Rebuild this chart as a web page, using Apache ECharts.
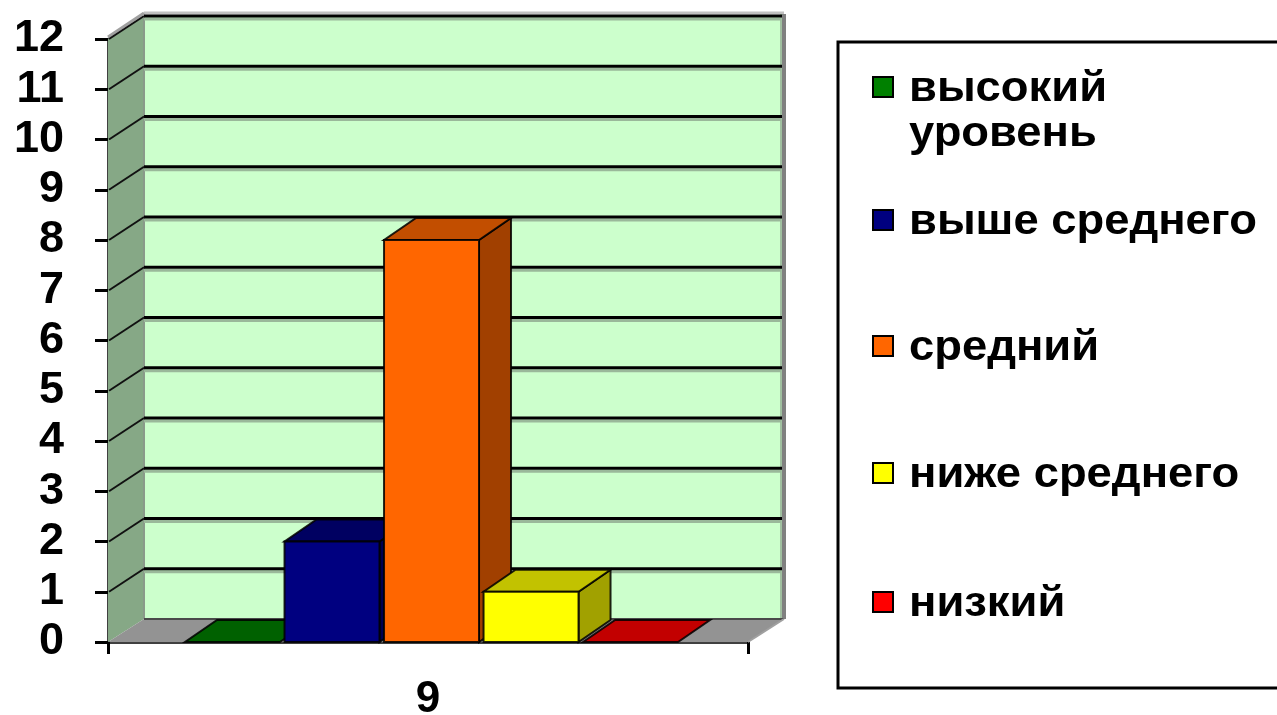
<!DOCTYPE html>
<html><head><meta charset="utf-8">
<script src="https://cdn.jsdelivr.net/npm/echarts@6/dist/echarts.min.js"></script>
<style>html,body{margin:0;padding:0;background:#fff}#c{width:1277px;height:715px}</style>
</head><body><div id="c"></div>
<script>
const categories = ['9'];
const seriesNames = ['высокий уровень', 'выше среднего', 'средний', 'ниже среднего', 'низкий'];
const legendLines = [['высокий', 'уровень'], ['выше среднего'], ['средний'], ['ниже среднего'], ['низкий']];
const values = [0, 2, 8, 1, 0];
const yTicks = [0, 1, 2, 3, 4, 5, 6, 7, 8, 9, 10, 11, 12];
const barColors = ['#008000', '#000080', '#FF6600', '#FFFF00', '#FF0000'];

const FONT = '"Liberation Sans", Arial, sans-serif';
const WDX = 36, WDY = -23;   // wall depth offset
const BDX = 32, BDY = -22;   // bar depth offset

function shade(hex, f) {
  const n = parseInt(hex.slice(1), 16);
  const r = Math.round(((n >> 16) & 255) * f), g = Math.round(((n >> 8) & 255) * f), b = Math.round((n & 255) * f);
  return 'rgb(' + r + ',' + g + ',' + b + ')';
}

function renderWalls(params, api) {
  const cs = params.coordSys;
  const x0 = cs.x, x1 = cs.x + cs.width;
  const yb = api.coord([0, 0])[1];
  const yt = api.coord([0, yTicks[yTicks.length - 1]])[1];
  const ch = [];
  ch.push({ type: 'polygon', shape: { points: [[x0 + WDX, yt + WDY], [x1 + WDX, yt + WDY], [x1 + WDX, yb + WDY], [x0 + WDX, yb + WDY]] },
    style: { fill: '#CCFFCC' } });
  ch.push({ type: 'polygon', shape: { points: [[x0, yb], [x0, yt], [x0 + WDX, yt + WDY], [x0 + WDX, yb + WDY]] },
    style: { fill: '#86A886' } });
  ch.push({ type: 'polygon', shape: { points: [[x0, yb], [x1, yb], [x1 + WDX, yb + WDY], [x0 + WDX, yb + WDY]] },
    style: { fill: '#939393' } });
  ch.push({ type: 'line', shape: { x1: x0 + WDX, y1: yt + WDY - 3, x2: x1 + WDX, y2: yt + WDY - 3 }, style: { stroke: '#C0C0C0', lineWidth: 3 } });
  ch.push({ type: 'line', shape: { x1: x0, y1: yt - 2, x2: x0 + WDX, y2: yt + WDY - 3 }, style: { stroke: '#A0A0A0', lineWidth: 3 } });
  ch.push({ type: 'line', shape: { x1: x1 + WDX - 3, y1: yt + WDY - 2, x2: x1 + WDX - 3, y2: yb + WDY }, style: { stroke: '#A0C0A0', lineWidth: 2 } });
  ch.push({ type: 'line', shape: { x1: x1 + WDX, y1: yt + WDY - 2, x2: x1 + WDX, y2: yb + WDY }, style: { stroke: '#808080', lineWidth: 4 } });
  ch.push({ type: 'line', shape: { x1: x0 + WDX, y1: yt + WDY, x2: x0 + WDX, y2: yb + WDY }, style: { stroke: '#8A9A8A', lineWidth: 2 } });
  ch.push({ type: 'line', shape: { x1: x0 + WDX, y1: yb + WDY, x2: x1 + WDX, y2: yb + WDY }, style: { stroke: '#4A4A4A', lineWidth: 2 } });
  ch.push({ type: 'line', shape: { x1: x1, y1: yb, x2: x1 + WDX, y2: yb + WDY }, style: { stroke: '#A0A0A0', lineWidth: 2 } });
  yTicks.forEach(function (v) {
    if (v === 0) return;
    const y = api.coord([0, v])[1];
    ch.push({ type: 'line', shape: { x1: x0 + WDX, y1: y + WDY + 3, x2: x1 + WDX - 3, y2: y + WDY + 3 }, style: { stroke: '#9AB89A', lineWidth: 3 } });
    ch.push({ type: 'line', shape: { x1: x0 + WDX, y1: y + WDY, x2: x1 + WDX - 2, y2: y + WDY }, style: { stroke: '#000', lineWidth: 3 } });
    ch.push({ type: 'line', shape: { x1: x0 + 1, y1: y, x2: x0 + WDX, y2: y + WDY }, style: { stroke: '#111', lineWidth: 2 } });
  });
  return { type: 'group', children: ch };
}

function renderBar(params, api) {
  const idx = api.value(2);
  const val = api.value(1);
  const base = api.coord([api.value(0), 0]);
  const top = api.coord([api.value(0), val]);
  const band = api.size([1, 0])[0];
  const step = band * 0.1555, w = band * 0.1484, off = band * 0.0055;
  const xa = base[0] + off + (idx - 2) * step - w / 2, xb = xa + w;
  const yb = base[1], yt = top[1];
  const col = barColors[idx];
  const edge = { stroke: 'rgba(0,0,0,0.85)', lineWidth: 2, lineJoin: 'miter' };
  const ch = [];
  if (val > 0) {
    ch.push({ type: 'polygon', shape: { points: [[xb, yt], [xb + BDX, yt + BDY], [xb + BDX, yb + BDY], [xb, yb]] },
      style: Object.assign({ fill: shade(col, 0.63) }, edge) });
  }
  ch.push({ type: 'polygon', shape: { points: [[xa, yt], [xb, yt], [xb + BDX, yt + BDY], [xa + BDX, yt + BDY]] },
    style: Object.assign({ fill: shade(col, 0.76) }, edge) });
  if (val > 0) {
    ch.push({ type: 'rect', shape: { x: xa, y: yt, width: w, height: yb - yt },
      style: Object.assign({ fill: col }, edge) });
  }
  return { type: 'group', children: ch };
}

const series = [{
  type: 'custom', name: 'walls', renderItem: renderWalls, data: [[0, 0]], silent: true, z: 1
}];
seriesNames.forEach(function (n, i) {
  series.push({ type: 'custom', name: n, renderItem: renderBar, data: [[0, values[i], i]], z: 2 });
});

const graphic = [{ type: 'rect', shape: { x: 838, y: 42, width: 460, height: 646 }, style: { fill: '#fff', stroke: '#000', lineWidth: 3 }, z: 0 }];
const legendCenters = [87, 220, 346, 473, 602];
legendLines.forEach(function (lines, i) {
  const cy = legendCenters[i];
  graphic.push({ type: 'rect', shape: { x: 873, y: cy - 10, width: 20, height: 20 }, style: { fill: barColors[i], stroke: '#000', lineWidth: 2 }, z: 1 });
  lines.forEach(function (t, j) {
    graphic.push({ type: 'text', x: 909, y: cy + 2 + j * 45, scaleX: 1.08, scaleY: 1,
      style: { text: t, font: 'bold 42px ' + FONT, fill: '#000', verticalAlign: 'middle', align: 'left' }, z: 1 });
  });
});

const chart = echarts.init(document.getElementById('c'), null, { renderer: 'canvas' });
chart.setOption({
  animation: false,
  backgroundColor: '#fff',
  grid: { left: 108, right: 529, top: 39, bottom: 73, containLabel: false, outerBoundsMode: 'none' },
  xAxis: {
    type: 'category', data: categories, boundaryGap: true,
    axisLine: { show: true, lineStyle: { color: '#404040', width: 3 } },
    axisTick: { show: true, length: 12, lineStyle: { color: '#000', width: 3 } },
    axisLabel: { fontSize: 44, fontWeight: 'bold', fontFamily: FONT, color: '#000', margin: 36 },
    splitLine: { show: false }
  },
  yAxis: {
    type: 'value', min: 0, max: 12, interval: 1,
    axisLine: { show: true, lineStyle: { color: '#404040', width: 3 } },
    axisTick: { show: true, length: 13, lineStyle: { color: '#000', width: 3 } },
    axisLabel: { fontSize: 45, fontWeight: 'bold', fontFamily: FONT, color: '#000', margin: 44, padding: [6, 0, 0, 0] },
    splitLine: { show: false }
  },
  graphic: graphic,
  series: series
});
</script>
</body></html>
